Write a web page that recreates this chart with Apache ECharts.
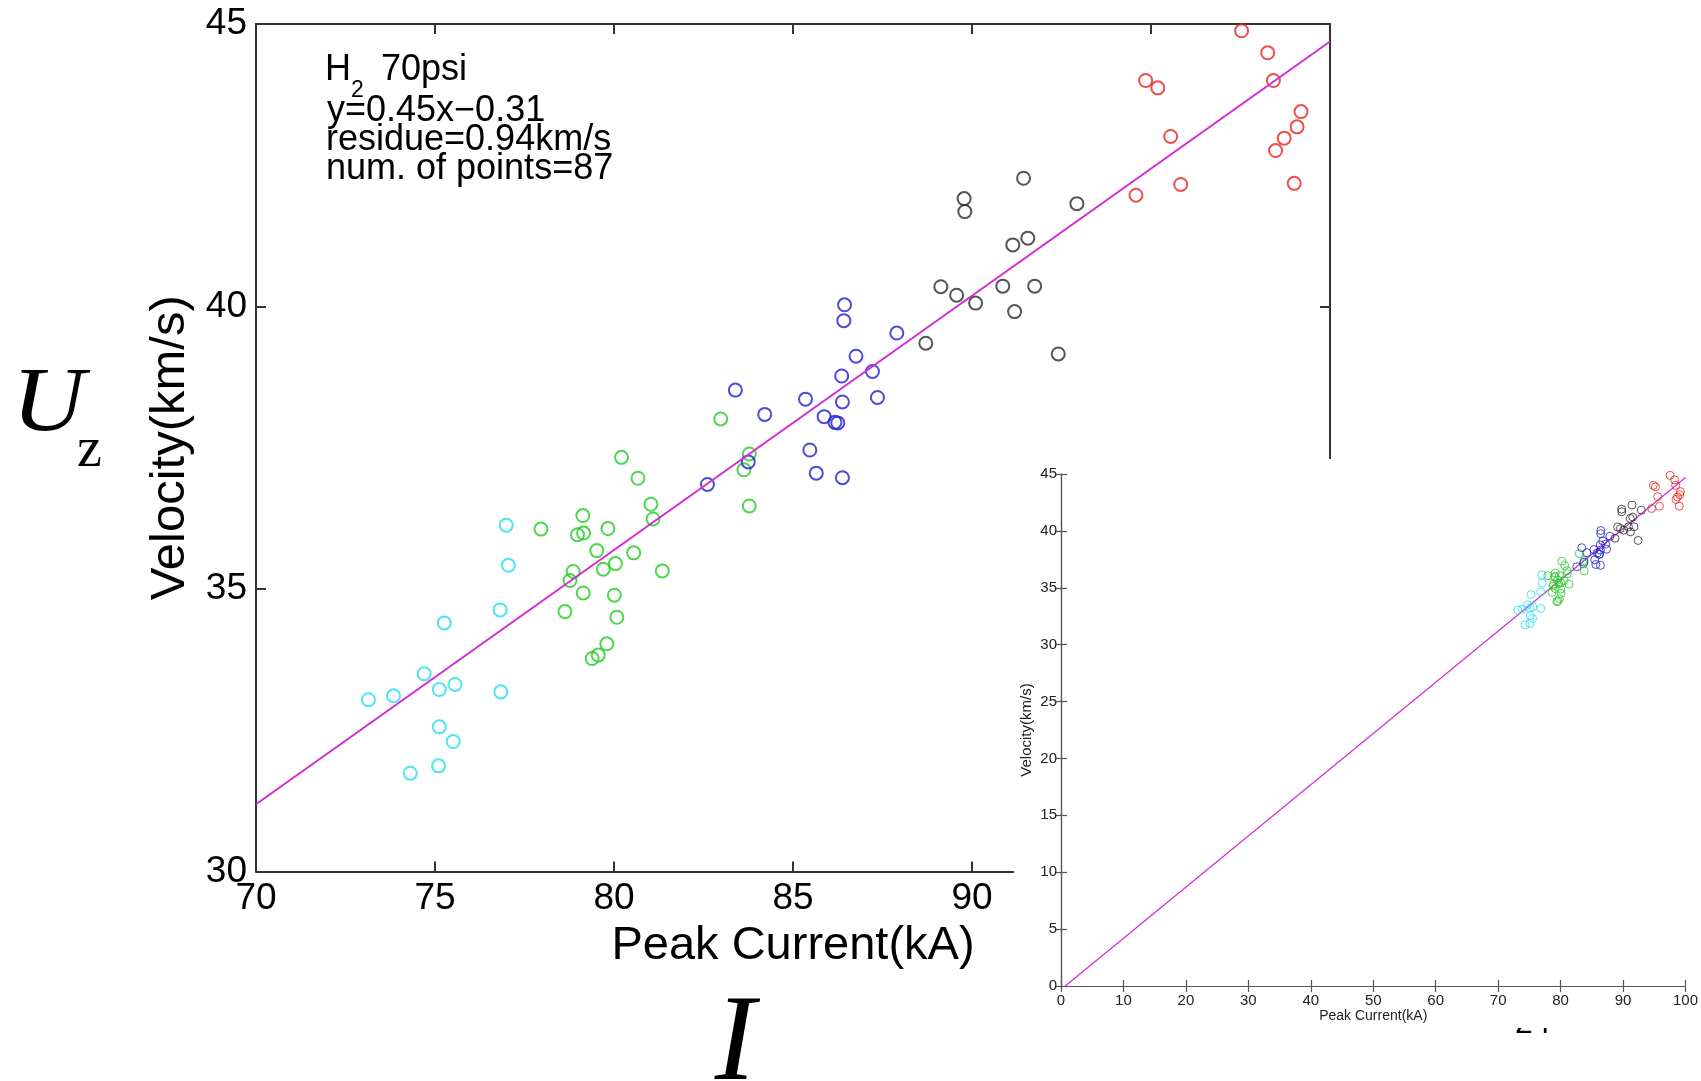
<!DOCTYPE html>
<html>
<head>
<meta charset="utf-8">
<script src="https://cdn.jsdelivr.net/npm/echarts@6/dist/echarts.min.js"></script>
<style>html,body{margin:0;padding:0;background:#fff;}#c{width:1701px;height:1081px;}</style>
</head>
<body>
<div id="c"></div>
<script>
// ---- data (Peak Current kA, Velocity km/s) ----
const cyanX  = [73.14, 73.84, 74.70, 75.12, 75.56, 75.26, 75.12, 75.51, 75.10, 74.31, 76.84, 76.82, 77.05, 76.99];
const cyanY  = [33.04, 33.11, 33.50, 33.22, 33.31, 34.40, 32.56, 32.30, 31.87, 31.74, 33.18, 34.63, 35.42, 36.13];
const greenX = [77.96, 79.13, 78.98, 79.15, 79.83, 80.21, 80.67, 81.03, 81.09, 79.52, 80.55, 80.04, 79.70, 78.86, 78.77, 81.35, 79.14, 80.01, 78.63, 80.08, 79.80, 79.56, 79.39, 82.98, 83.78, 83.63, 83.78];
const greenY = [36.06, 36.30, 35.96, 35.99, 36.07, 37.33, 36.96, 36.50, 36.24, 35.68, 35.64, 35.45, 35.35, 35.31, 35.15, 35.32, 34.93, 34.89, 34.60, 34.50, 34.03, 33.83, 33.77, 38.01, 37.39, 37.11, 36.47];
const blueX  = [82.61, 83.75, 83.39, 84.21, 85.35, 85.47, 85.65, 85.87, 86.17, 86.25, 86.38, 86.38, 86.36, 86.76, 87.22, 87.36, 87.90, 86.42, 86.44];
const blueY  = [36.85, 37.25, 38.52, 38.09, 38.36, 37.46, 37.05, 38.05, 37.95, 37.94, 38.31, 36.97, 38.77, 39.12, 38.85, 38.39, 39.53, 39.75, 40.03];
const blackX = [88.71, 89.13, 89.57, 90.10, 89.78, 89.80, 90.86, 91.14, 91.56, 91.44, 91.19, 91.75, 92.41, 92.93];
const blackY = [39.35, 40.35, 40.20, 40.06, 41.91, 41.68, 40.36, 41.09, 41.21, 42.27, 39.91, 40.36, 39.16, 41.82];
const redX   = [94.58, 94.85, 95.19, 95.55, 95.83, 97.53, 98.26, 98.42, 98.48, 98.72, 99.00, 99.08, 99.19];
const redY   = [41.97, 44.00, 43.87, 43.01, 42.16, 44.88, 44.49, 44.00, 42.76, 42.98, 42.18, 43.18, 43.45];

// fitted line y = 0.45x - 0.31 (endpoints as drawn)
const fitMainX  = [70, 100];
const fitMainY  = [31.19, 44.69];
const fitInsetX = [0.69, 100];
const fitInsetY = [0, 44.69];

const annotLines = ['y=0.45x\u22120.31', 'residue=0.94km/s', 'num. of points=87'];
const xTitle = 'Peak Current(kA)';
const yTitle = 'Velocity(km/s)';

const groups = [
  {x: cyanX,  y: cyanY,  c: '#1fe0ee'},
  {x: greenX, y: greenY, c: '#22cc22'},
  {x: blueX,  y: blueY,  c: '#1f1fcc'},
  {x: blackX, y: blackY, c: '#2a2a2a'},
  {x: redX,   y: redY,   c: '#e82222'}
];
const pairs = (xs, ys) => xs.map((v, i) => [v, ys[i]]);

const FONT = '"Liberation Sans", Arial, Helvetica, sans-serif';
const SERIF = '"Liberation Serif", "Times New Roman", serif';
const mainLine = {show: true, lineStyle: {color: '#333', width: 2}};
const mainTick = {show: true, inside: true, length: 10, lineStyle: {color: '#333', width: 2}};
const inLine = {show: true, lineStyle: {color: '#555', width: 1.2}};
const inTick = {show: true, inside: true, length: 6, lineStyle: {color: '#555', width: 1.2}};

const series = [];
groups.forEach(g => {
  series.push({type: 'scatter', xAxisIndex: 0, yAxisIndex: 0, data: pairs(g.x, g.y),
    symbol: 'circle', symbolSize: 13, z: 3,
    itemStyle: {color: 'rgba(0,0,0,0)', borderColor: g.c, borderWidth: 2}});
});
series.push({type: 'line', xAxisIndex: 0, yAxisIndex: 0, data: pairs(fitMainX, fitMainY),
  symbol: 'none', z: 4, lineStyle: {color: '#d42ad4', width: 2}});
groups.forEach(g => {
  series.push({type: 'scatter', xAxisIndex: 2, yAxisIndex: 2, data: pairs(g.x, g.y),
    symbol: 'circle', symbolSize: 8, z: 61,
    itemStyle: {color: 'rgba(0,0,0,0)', borderColor: g.c, borderWidth: 1}});
});
series.push({type: 'line', xAxisIndex: 2, yAxisIndex: 2, data: pairs(fitInsetX, fitInsetY),
  symbol: 'none', z: 60, lineStyle: {color: '#d42ad4', width: 1.2}});

function txt(text, x, y, font, align, extra) {
  const a = align || 'left';
  return Object.assign({type: 'text', x: x, y: y, z: 100,
    style: {text: text, font: font, fill: '#000', align: a, verticalAlign: 'middle',
            textAlign: a, textVerticalAlign: 'middle'}}, extra || {});
}

const option = {
  animation: false,
  backgroundColor: '#fff',
  grid: [
    {left: 256, top: 24, width: 1074, height: 847.5},
    {left: 1061, top: 474, width: 625, height: 512, z: 55}
  ],
  xAxis: [
    {type: 'value', gridIndex: 0, min: 70, max: 100, interval: 5, position: 'bottom',
     axisLine: mainLine, axisTick: mainTick, splitLine: {show: false},
     axisLabel: {fontSize: 37, color: '#000', margin: 9, fontFamily: FONT},
     name: xTitle, nameLocation: 'middle', nameGap: 47,
     nameTextStyle: {fontSize: 47, color: '#000', fontFamily: FONT}},
    {type: 'value', gridIndex: 0, min: 70, max: 100, interval: 5, position: 'top',
     axisLine: mainLine, axisTick: mainTick, splitLine: {show: false}, axisLabel: {show: false}},
    {type: 'value', gridIndex: 1, min: 0, max: 100, interval: 10, position: 'bottom', z: 60,
     axisLine: inLine, axisTick: inTick, splitLine: {show: false},
     axisLabel: {fontSize: 15, color: '#222', margin: 7, fontFamily: FONT},
     name: xTitle, nameLocation: 'middle', nameGap: 23,
     nameTextStyle: {fontSize: 14, color: '#222', fontFamily: FONT}},
    {type: 'value', gridIndex: 1, min: 0, max: 100, interval: 10, position: 'top', z: 60,
     axisLine: inLine, axisTick: inTick, splitLine: {show: false}, axisLabel: {show: false}}
  ],
  yAxis: [
    {type: 'value', gridIndex: 0, min: 30, max: 45, interval: 5, position: 'left',
     axisLine: mainLine, axisTick: mainTick, splitLine: {show: false},
     axisLabel: {fontSize: 37, color: '#000', margin: 9, fontFamily: FONT},
     name: yTitle, nameLocation: 'middle', nameGap: 58,
     nameTextStyle: {fontSize: 49, color: '#000', fontFamily: FONT}},
    {type: 'value', gridIndex: 0, min: 30, max: 45, interval: 5, position: 'right',
     axisLine: mainLine, axisTick: mainTick, splitLine: {show: false}, axisLabel: {show: false}},
    {type: 'value', gridIndex: 1, min: 0, max: 45, interval: 5, position: 'left', z: 60,
     axisLine: inLine, axisTick: inTick, splitLine: {show: false},
     axisLabel: {fontSize: 15, color: '#222', margin: 4, fontFamily: FONT},
     name: yTitle, nameLocation: 'middle', nameGap: 27,
     nameTextStyle: {fontSize: 15, color: '#222', fontFamily: FONT}},
    {type: 'value', gridIndex: 1, min: 0, max: 45, interval: 5, position: 'right', z: 60,
     axisLine: inLine, axisTick: inTick, splitLine: {show: false}, axisLabel: {show: false}}
  ],
  series: series,
  graphic: [
    // page number partly hidden behind the inset
    txt('24', 1515, 1024, '32px ' + FONT, 'left', {z: 40}),
    // white background of the inset figure
    {type: 'rect', z: 50, shape: {x: 1014, y: 459, width: 687, height: 569},
     style: {fill: '#fff'}},
    // annotation
    txt('H', 325, 70, '36px ' + FONT),
    txt('2', 351, 91, '23px ' + FONT),
    txt('70psi', 381, 70, '36px ' + FONT),
    txt(annotLines[0], 327, 111, '36px ' + FONT),
    txt(annotLines[1], 326, 140, '36px ' + FONT),
    txt(annotLines[2], 326, 169, '36px ' + FONT),
    // large symbols
    txt('U', 12, 406, 'italic 90px ' + SERIF, 'left', {scaleX: 1.12}),
    txt('z', 77, 451, '56px ' + SERIF),
    txt('I', 735, 1047, 'italic 122px ' + SERIF, 'center')
  ]
};

const chart = echarts.init(document.getElementById('c'), null, {renderer: 'canvas'});
chart.setOption(option);
</script>
</body>
</html>
